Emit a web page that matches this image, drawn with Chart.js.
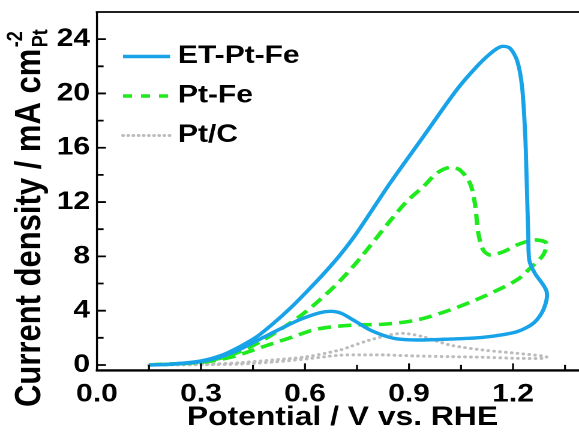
<!DOCTYPE html>
<html><head><meta charset="utf-8">
<script src="https://cdn.jsdelivr.net/npm/chart.js@4.4.1/dist/chart.umd.min.js"></script>
<style>
html,body{margin:0;padding:0;background:#fff;overflow:hidden;width:579px;height:437px}
#wrap{position:absolute;left:0;top:0;width:490px;height:437px;transform:scaleX(1.2);transform-origin:0 0}
</style></head><body>
<div id="wrap"><canvas id="c"></canvas></div>
<script>
const seriesLabels = ['ET-Pt-Fe', 'Pt-Fe', 'Pt/C'];
const seriesColors = ['#18a3e8', '#1eea1e', '#bcbcbc'];

const etPtFeV = [0.150,0.220,0.300,0.360,0.412,0.461,0.509,0.557,0.605,0.655,0.701,0.750,0.845,0.941,1.037,1.095,1.135,1.165,1.190,1.212,1.226,1.235,1.240,1.244,1.247,1.262,1.297,1.288,1.260,1.211,1.114,1.018,0.922,0.855,0.790,0.740,0.705,0.676,0.643,0.586,0.528,0.470,0.412,0.360,0.300,0.220,0.150];
const etPtFeJ = [0.00,0.08,0.30,0.72,1.35,2.08,3.07,4.17,5.40,6.75,8.10,9.75,13.38,16.81,20.25,21.97,22.95,23.45,23.35,22.40,20.50,17.00,13.00,9.50,7.70,6.80,5.40,4.10,3.10,2.45,2.04,1.91,1.84,1.97,2.55,3.30,3.80,3.95,3.85,3.35,2.65,1.90,1.15,0.62,0.25,0.06,0.00];

const ptFeV = [0.150,0.182,0.278,0.355,0.412,0.470,0.528,0.586,0.643,0.701,0.759,0.845,0.893,0.941,0.980,1.018,1.047,1.076,1.090,1.100,1.114,1.134,1.172,1.211,1.258,1.292,1.297,1.287,1.254,1.211,1.114,1.018,0.922,0.826,0.749,0.682,0.624,0.566,0.509,0.451,0.393,0.316,0.220,0.150];
const ptFeJ = [0.00,0.05,0.17,0.49,0.98,1.70,2.60,3.60,4.80,6.20,7.86,10.60,12.03,13.13,14.12,14.56,14.36,13.38,11.90,9.70,8.47,8.10,8.34,8.84,9.20,9.08,8.84,8.10,7.24,6.26,5.03,4.05,3.31,3.00,2.95,2.82,2.58,2.08,1.60,1.10,0.61,0.24,0.07,0.00];

const ptCV = [0.150,0.316,0.412,0.509,0.605,0.701,0.730,0.787,0.845,0.884,0.941,1.018,1.114,1.211,1.287,1.297,1.287,1.211,1.114,1.018,0.922,0.826,0.759,0.701,0.605,0.509,0.412,0.316,0.150];
const ptCJ = [0.00,0.05,0.17,0.37,0.61,1.10,1.35,1.84,2.21,2.33,2.08,1.47,1.10,0.86,0.66,0.58,0.49,0.49,0.57,0.61,0.66,0.74,0.74,0.72,0.45,0.22,0.07,0.02,0.00];

const xTickLabels = [0.0, 0.3, 0.6, 0.9, 1.2];
const xMinorTicks = [0.15, 0.45, 0.75, 1.05, 1.35];
const yTickLabels = [0, 4, 8, 12, 16, 20, 24];
const yMinorTicks = [2, 6, 10, 14, 18, 22];

const xTitle = 'Potential / V vs. RHE';
const yTitleMain = 'Current density / mA cm';
const yTitleSup = '-2';
const yTitleSub = 'Pt';

const FONT = '"Liberation Sans", Arial, sans-serif';

function pts(V, J) { return V.map((v, i) => ({ x: v, y: J[i] })); }

const dashes = [[], [11, 6], [0.1, 4.8]];
const widths = [3.4, 3.6, 3.0];

function noPad(s) { s.paddingTop = 0; s.paddingBottom = 0; s.paddingLeft = 0; s.paddingRight = 0; }

const decor = {
  id: 'decor',
  afterDraw(chart) {
    const { ctx, chartArea: a, scales: { x, y } } = chart;
    ctx.save();
    ctx.strokeStyle = '#000';
    ctx.lineCap = 'butt';
    ctx.lineWidth = 1.6;
    ctx.beginPath();
    xTickLabels.forEach(v => { const p = x.getPixelForValue(v); ctx.moveTo(p, a.bottom); ctx.lineTo(p, a.bottom - 7); });
    xMinorTicks.forEach(v => { const p = x.getPixelForValue(v); ctx.moveTo(p, a.bottom); ctx.lineTo(p, a.bottom - 5.5); });
    ctx.stroke();
    ctx.lineWidth = 1.8;
    ctx.beginPath();
    yTickLabels.forEach(v => { const p = y.getPixelForValue(v); ctx.moveTo(a.left, p); ctx.lineTo(a.left + 7.5, p); });
    yMinorTicks.forEach(v => { const p = y.getPixelForValue(v); ctx.moveTo(a.left, p); ctx.lineTo(a.left + 5.5, p); });
    ctx.stroke();
    ctx.lineWidth = 1.8;
    ctx.beginPath(); ctx.moveTo(a.left - 1, a.top); ctx.lineTo(a.right, a.top); ctx.stroke();
    ctx.lineWidth = 2.4;
    ctx.beginPath(); ctx.moveTo(a.left - 1, a.bottom); ctx.lineTo(a.right, a.bottom); ctx.stroke();
    ctx.lineWidth = 1.7;
    ctx.beginPath(); ctx.moveTo(a.left, a.top); ctx.lineTo(a.left, a.bottom + 1); ctx.stroke();
    ctx.beginPath(); ctx.moveTo(a.right, a.top); ctx.lineTo(a.right, a.bottom); ctx.stroke();

    ctx.fillStyle = '#000';
    ctx.font = 'bold 26.5px ' + FONT;
    ctx.textAlign = 'center';
    ctx.textBaseline = 'alphabetic';
    ctx.fillText(xTitle, 285.4, 425);
    ctx.save();
    ctx.translate(33.3, 407);
    ctx.rotate(-Math.PI / 2);
    ctx.textAlign = 'left';
    ctx.font = 'bold 31px ' + FONT;
    ctx.fillText(yTitleMain, 0, 0);
    const w = ctx.measureText(yTitleMain).width;
    ctx.font = 'bold 18px ' + FONT;
    ctx.fillText(yTitleSup, w + 1.5, -15);
    ctx.fillText(yTitleSub, w + 1.5, 6);
    ctx.restore();

    ctx.font = 'bold 25px ' + FONT;
    ctx.textAlign = 'left';
    const base = [63, 102.5, 142];
    const legDash = [[], [7.5, 7.5], [0.1, 4.2]];
    chart.data.datasets.forEach((ds, i) => {
      const ly = base[i] - 6.5;
      ctx.save();
      ctx.strokeStyle = ds.borderColor;
      ctx.lineWidth = i === 2 ? 3.0 : 3.6;
      ctx.lineCap = i === 2 ? 'round' : 'butt';
      ctx.setLineDash(legDash[i]);
      ctx.beginPath(); ctx.moveTo(102.5, ly); ctx.lineTo(141.7, ly); ctx.stroke();
      ctx.restore();
      ctx.fillText(ds.label, 148.3, base[i]);
    });
    ctx.restore();
  }
};

const series = [pts(etPtFeV, etPtFeJ), pts(ptFeV, ptFeJ), pts(ptCV, ptCJ)];

new Chart(document.getElementById('c'), {
  type: 'scatter',
  data: {
    datasets: series.map((d, i) => ({
      label: seriesLabels[i],
      data: d,
      showLine: true,
      borderColor: seriesColors[i],
      backgroundColor: seriesColors[i],
      borderWidth: widths[i],
      borderDash: dashes[i],
      borderCapStyle: i === 2 ? 'round' : 'butt',
      borderJoinStyle: 'round',
      pointRadius: 0,
      pointHoverRadius: 0,
      tension: 0.3,
      fill: false
    }))
  },
  options: {
    responsive: true,
    maintainAspectRatio: false,
    animation: false,
    devicePixelRatio: 2,
    layout: { padding: { left: 0, top: 12, right: 4.7, bottom: 0 } },
    plugins: { legend: { display: false }, tooltip: { enabled: false } },
    scales: {
      x: {
        type: 'linear', min: 0, max: 1.4,
        grid: { display: false, drawTicks: false },
        border: { display: false },
        afterBuildTicks: s => { s.ticks = xTickLabels.map(v => ({ value: v })); },
        afterFit: s => { s.height = 66.6; noPad(s); },
        ticks: {
          padding: 9, color: '#000', maxRotation: 0, autoSkip: false,
          font: { family: FONT, weight: 'bold', size: 25 },
          callback: v => Number(v).toFixed(1)
        }
      },
      y: {
        type: 'linear', min: -0.4, max: 26,
        grid: { display: false, drawTicks: false },
        border: { display: false },
        afterBuildTicks: s => { s.ticks = yTickLabels.map(v => ({ value: v })); },
        afterFit: s => { s.width = 80.8; noPad(s); },
        ticks: {
          padding: 5.8, color: '#000', autoSkip: false,
          font: { family: FONT, weight: 'bold', size: 25 },
          callback: v => String(Math.round(v))
        }
      }
    }
  },
  plugins: [decor]
});
</script>
</body></html>
